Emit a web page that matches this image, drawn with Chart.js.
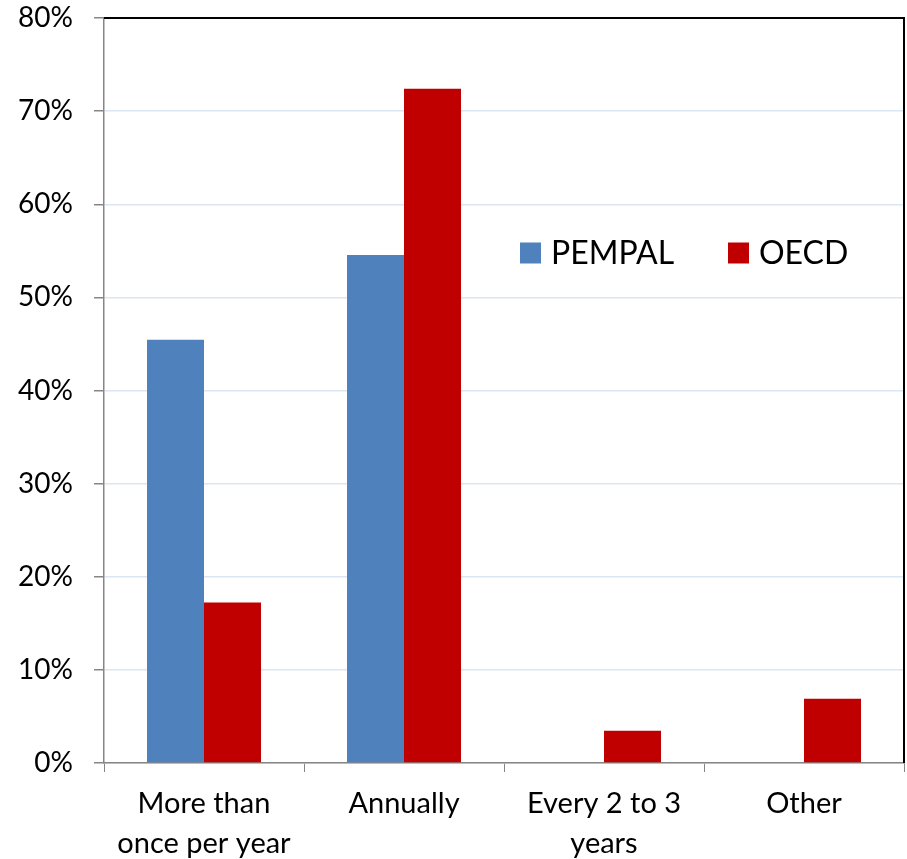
<!DOCTYPE html>
<html>
<head>
<meta charset="utf-8">
<script src="https://cdn.jsdelivr.net/npm/chart.js@4.4.1/dist/chart.umd.min.js"></script>
<style>
  html, body { margin: 0; padding: 0; background: #ffffff; }
  #wrap { width: 907px; height: 859px; }
</style>
</head>
<body>
<div id="wrap"><canvas id="c" width="907" height="859"></canvas></div>
<script>
// Review frequency: share of respondents (%)
const categories = [["More than", "once per year"], "Annually", ["Every 2 to 3", "years"], "Other"];
const pempal = [45.45, 54.55, 0, 0];
const oecd = [17.24, 72.41, 3.45, 6.90];
const seriesNames = ["PEMPAL", "OECD"];
const seriesColors = ["#4f81bd", "#c00000"];
const yTicks = [0, 10, 20, 30, 40, 50, 60, 70, 80];

const FONT = "Lato, 'Open Sans', sans-serif";

// Black frame on top and right of the plot area, plus the in-plot legend
const frameAndLegend = {
  id: 'frameAndLegend',
  afterDraw(chart) {
    const { ctx, chartArea: a } = chart;
    ctx.save();
    ctx.strokeStyle = '#000000';
    ctx.lineWidth = 2;
    ctx.beginPath();
    ctx.moveTo(a.left, a.top);
    ctx.lineTo(a.right, a.top);
    ctx.lineTo(a.right, a.bottom);
    ctx.stroke();

    // legend
    ctx.font = "32px " + FONT;
    ctx.textBaseline = 'middle';
    ctx.textAlign = 'left';
    let x = a.left + 416;
    const y = a.top + 235;
    chart.data.datasets.forEach((ds) => {
      ctx.fillStyle = ds.backgroundColor;
      ctx.fillRect(x, y - 10.5, 21, 21);
      ctx.fillStyle = '#000000';
      ctx.fillText(ds.label, x + 31, y + 1);
      x += 208;
    });
    ctx.restore();
  }
};

new Chart(document.getElementById('c'), {
  type: 'bar',
  data: {
    labels: categories,
    datasets: [
      { label: seriesNames[0], data: pempal, backgroundColor: seriesColors[0] },
      { label: seriesNames[1], data: oecd, backgroundColor: seriesColors[1] }
    ]
  },
  options: {
    responsive: false,
    animation: false,
    devicePixelRatio: 1,
    layout: { padding: { top: 18, right: 3, left: 0, bottom: 0 } },
    datasets: { bar: { categoryPercentage: 0.57, barPercentage: 1.0 } },
    plugins: { legend: { display: false }, tooltip: { enabled: false } },
    scales: {
      x: {
        grid: { display: true, drawOnChartArea: false, offset: true, tickLength: 9, tickColor: '#868686', lineWidth: 1 },
        border: { color: '#868686', width: 1.5 },
        ticks: { color: '#000000', font: { family: FONT, size: 29, lineHeight: 1.38 }, padding: 12, maxRotation: 0, autoSkip: false },
        afterFit(s) { s.height = 96; }
      },
      y: {
        min: 0, max: 80,
        afterBuildTicks(s) { s.ticks = yTicks.map(v => ({ value: v })); },
        grid: { color: '#dce6f2', tickColor: '#868686', tickLength: 10, lineWidth: 1.5 },
        border: { color: '#868686', width: 1.5 },
        ticks: { color: '#000000', font: { family: FONT, size: 28 }, padding: 21, callback: v => v + '%' },
        afterFit(s) { s.width = 104; s.paddingTop = 0; s.paddingBottom = 0; }
      }
    }
  },
  plugins: [frameAndLegend]
});
</script>
</body>
</html>
